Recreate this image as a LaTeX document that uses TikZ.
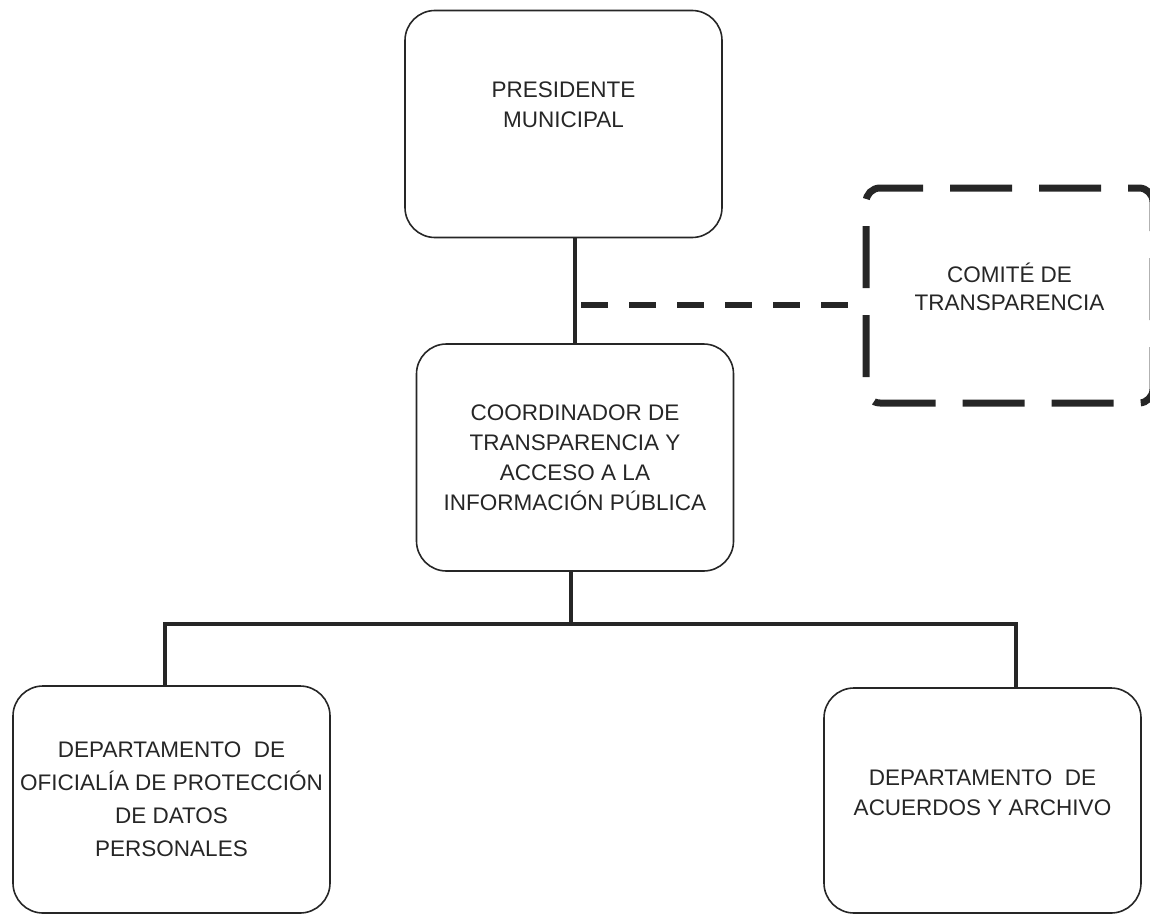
\documentclass[tikz,border=0pt]{standalone}
\usepackage{fontspec}
\setmainfont{Liberation Sans}

\begin{document}
\begin{tikzpicture}[x=1pt, y=-1pt,
        unidad/.style={rectangle, draw=black!85, line width=1.6pt, rounded corners=30pt,
            minimum width=317pt, minimum height=227pt, inner sep=0pt, align=center,
            text=black!85, font=\fontsize{22.5}{30}\selectfont},
        comite/.style={rectangle, minimum width=287pt, minimum height=215pt, inner sep=0pt,
            outer sep=0pt, align=center, text=black!85, font=\fontsize{22.5}{28}\selectfont},
        borde/.style={draw=black!85, line width=7pt, rounded corners=14pt,
            dash pattern=on 62pt off 27pt, dash phase=77pt},
        liga/.style={draw=black!85, line width=4.5pt},
        punteada/.style={draw=black!85, line width=6pt, dash pattern=on 27pt off 21pt}]
    \useasboundingbox (0,0) rectangle (1150,915);
        \node [unidad, text depth=38pt] (pres) at (563.5,124) {PRESIDENTE\\MUNICIPAL};
        \node [comite, text depth=18pt] (com) at (1009.5,295.5) {COMITÉ DE\\TRANSPARENCIA};
        \node [unidad] (coord) at (575,457.5)
            {COORDINADOR DE\\TRANSPARENCIA Y\\ACCESO A LA\\INFORMACIÓN PÚBLICA};
        \node [unidad, font=\fontsize{22.5}{33}\selectfont] (depL) at (171.5,799.5)
            {DEPARTAMENTO~~DE\\OFICIALÍA DE PROTECCIÓN\\DE DATOS\\PERSONALES};
        \node [unidad, minimum height=225pt, text depth=16pt] (depR) at (982.5,800.5)
            {DEPARTAMENTO~~DE\\ACUERDOS Y ARCHIVO};
    % borde punteado del comite
    \draw [borde] ([yshift=14pt]com.south west) -- (com.north west) -- (com.north east)
        -- (com.south east) -- (com.south west) -- ([yshift=14pt]com.south west);
    % lineas de mando
    \coordinate (cruce) at (coord.north |- 0,305);
    \coordinate (bus) at (0,624);
    \draw [liga] (coord.north) -- (coord.north |- pres.south);
    \draw [punteada] ([xshift=6pt]cruce) -- ([xshift=-4pt]cruce -| com.west);
    \draw [liga] ([xshift=-4pt]coord.south) -- ([xshift=-4pt]coord.south |- bus);
    \draw [liga] ([xshift=-6.5pt]depL.north) |- ([xshift=-4pt]coord.south |- bus)
        -| ([xshift=33.5pt]depR.north);
\end{tikzpicture}
\end{document}
